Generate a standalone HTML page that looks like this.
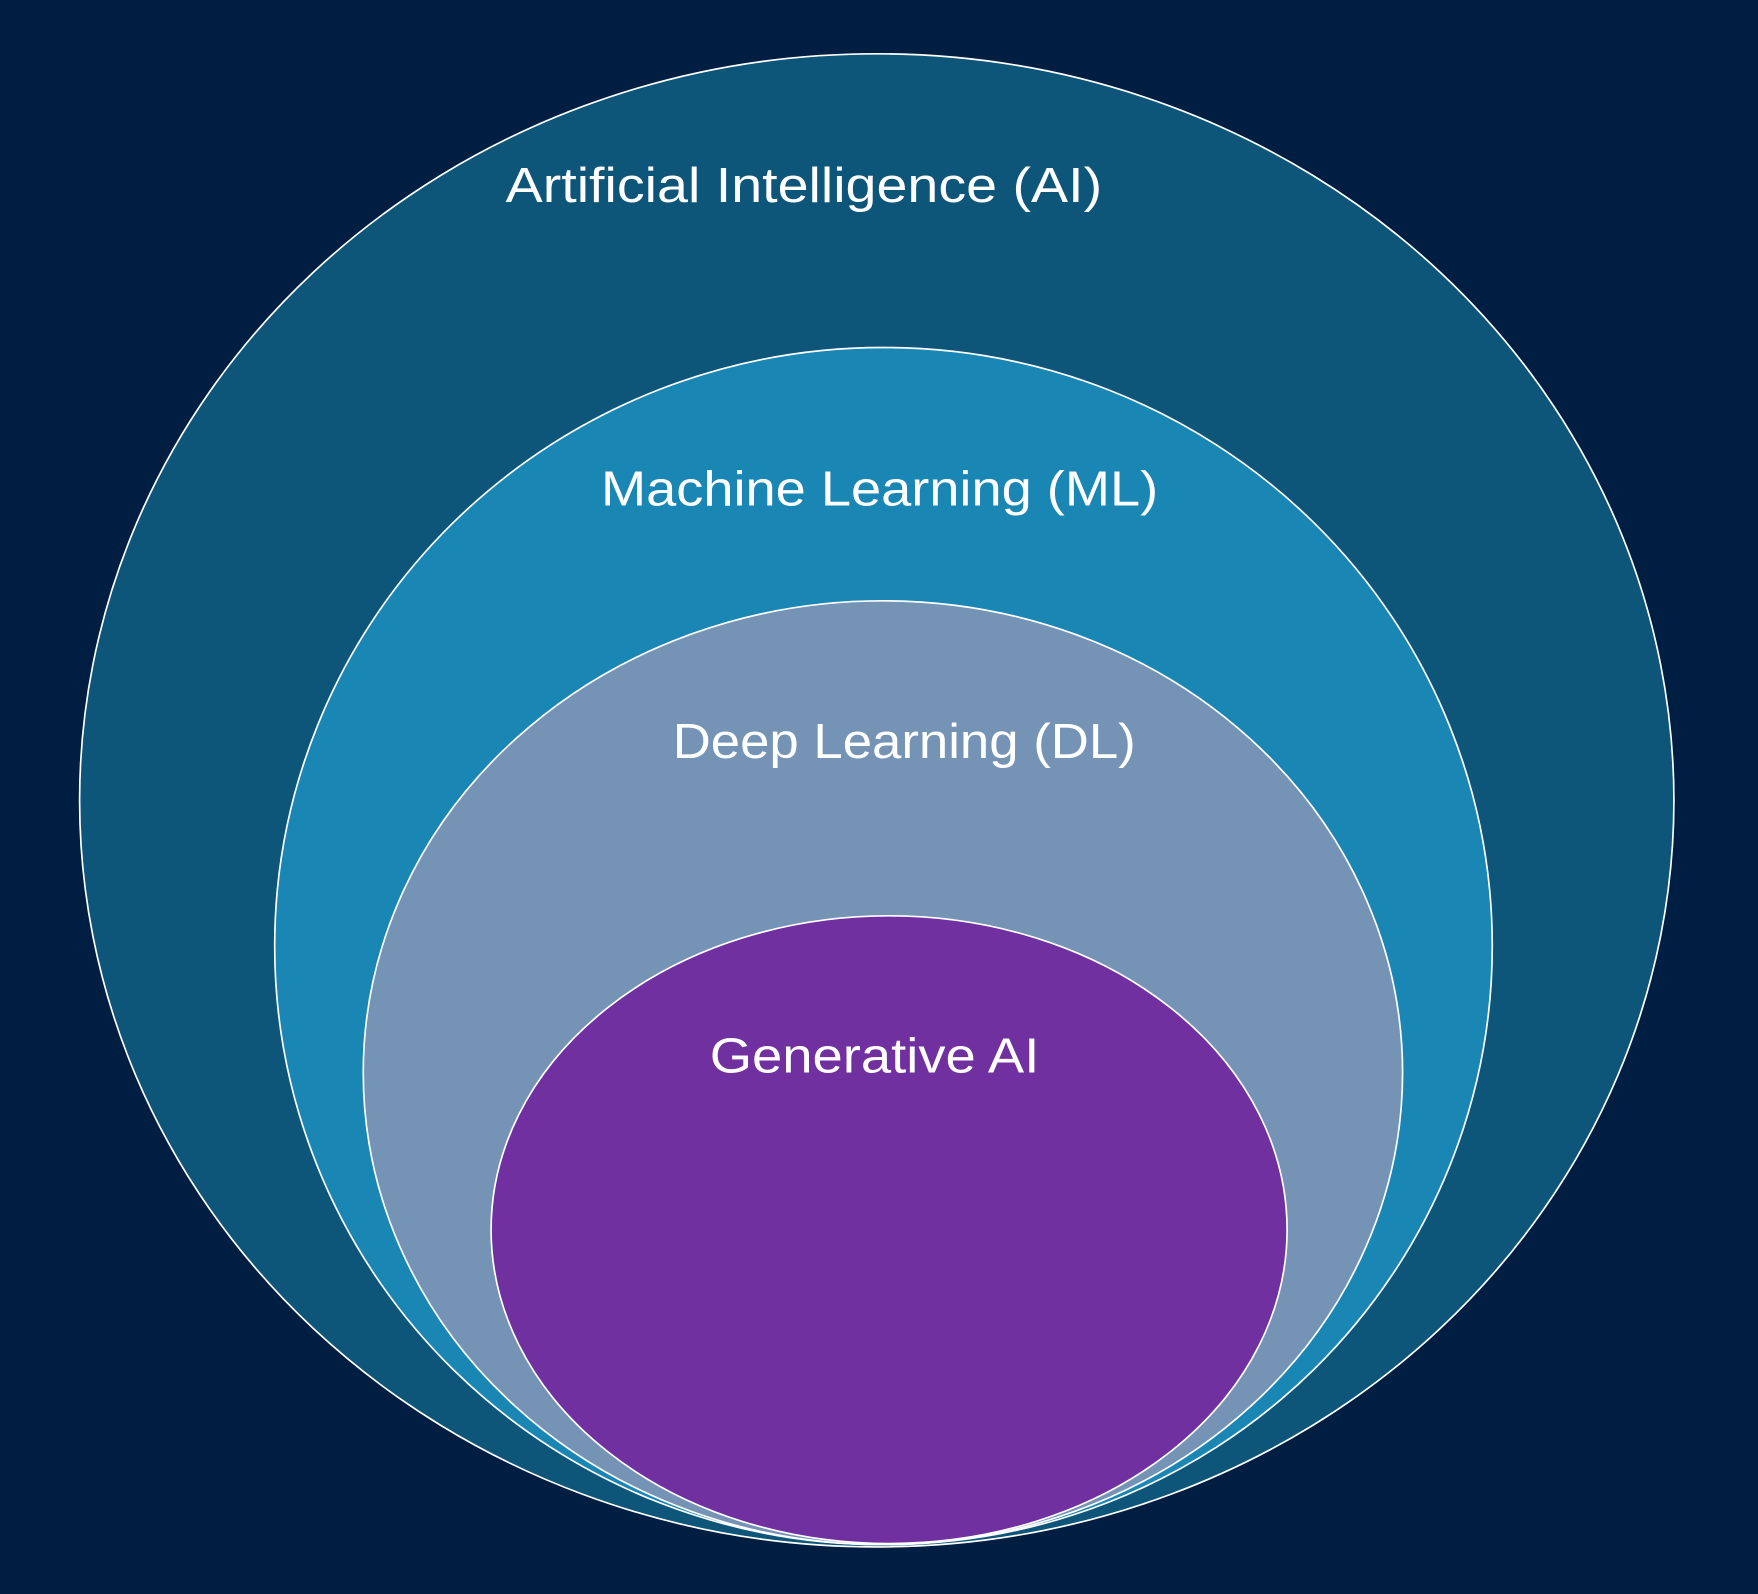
<!DOCTYPE html>
<html><head><meta charset="utf-8"><style>
html,body{margin:0;padding:0;background:#001e42;}
svg{display:block;}
text{font-family:"Liberation Sans",sans-serif;fill:#fff;font-size:44px;}
</style></head><body>
<svg width="1758" height="1594" viewBox="0 0 1568 1422" preserveAspectRatio="none" xmlns="http://www.w3.org/2000/svg">
<rect width="1568" height="1422" fill="#001e42"/>
<ellipse cx="782" cy="714" rx="711" ry="666" fill="#0d5579" stroke="#fff" stroke-width="1.5"/>
<ellipse cx="788" cy="844" rx="543" ry="534" fill="#1a86b3" stroke="#fff" stroke-width="1.5"/>
<ellipse cx="787.5" cy="957" rx="463.5" ry="421" fill="#7593b5" stroke="#fff" stroke-width="1.5"/>
<ellipse cx="793" cy="1097" rx="355" ry="280" fill="#7030a0" stroke="#fff" stroke-width="1.5"/>
<text x="451" y="180" textLength="532" lengthAdjust="spacingAndGlyphs">Artificial Intelligence (AI)</text>
<text x="536" y="451" textLength="497" lengthAdjust="spacingAndGlyphs">Machine Learning (ML)</text>
<text x="600" y="676" textLength="413" lengthAdjust="spacingAndGlyphs">Deep Learning (DL)</text>
<text x="633" y="957" textLength="294" lengthAdjust="spacingAndGlyphs">Generative AI</text>
</svg>
</body></html>
